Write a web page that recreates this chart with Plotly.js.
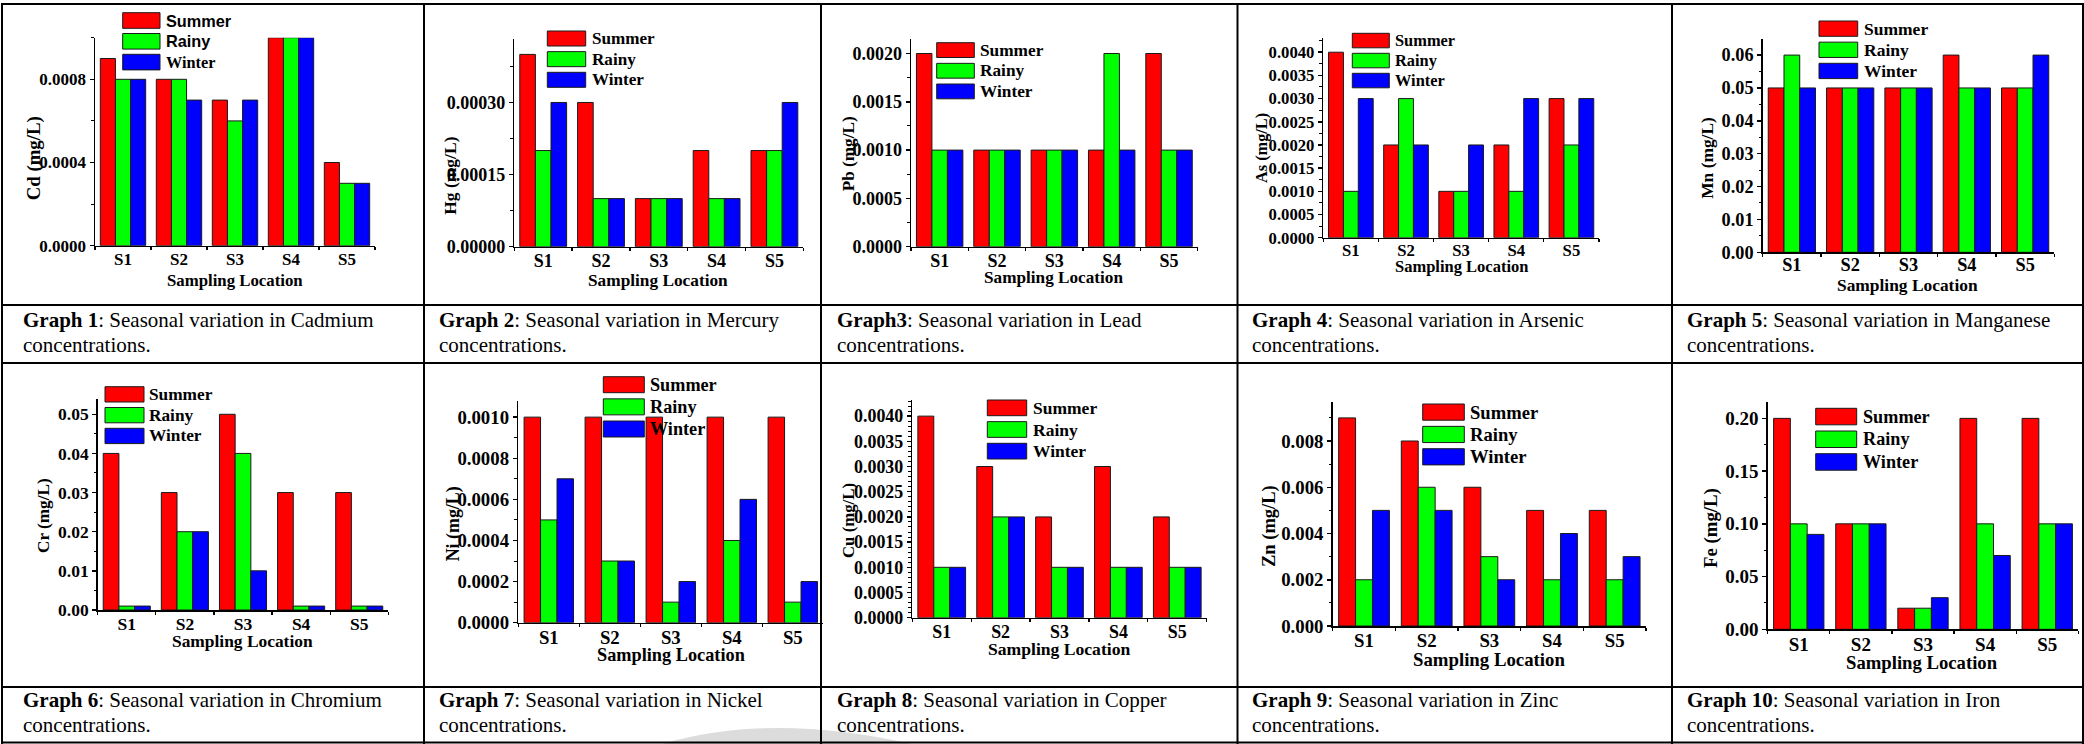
<!DOCTYPE html>
<html><head><meta charset="utf-8">
<script src="https://cdn.plot.ly/plotly-3.0.1.min.js"></script>
<style>html,body{margin:0;padding:0;background:#fff;overflow:hidden}#chart{width:2084px;height:744px}</style>
</head><body><div id="chart"></div>
<script>
// ---------- DATA ----------
const categories = ['S1', 'S2', 'S3', 'S4', 'S5'];
const seasons = ['Summer', 'Rainy', 'Winter'];
const xLabel = 'Sampling Location';

const cdSummer = [0.0009, 0.0008, 0.0007, 0.0010, 0.0004];
const cdRainy  = [0.0008, 0.0008, 0.0006, 0.0010, 0.0003];
const cdWinter = [0.0008, 0.0007, 0.0007, 0.0010, 0.0003];

const hgSummer = [0.0004, 0.0003, 0.0001, 0.0002, 0.0002];
const hgRainy  = [0.0002, 0.0001, 0.0001, 0.0001, 0.0002];
const hgWinter = [0.0003, 0.0001, 0.0001, 0.0001, 0.0003];

const pbSummer = [0.002, 0.001, 0.001, 0.001, 0.002];
const pbRainy  = [0.001, 0.001, 0.001, 0.002, 0.001];
const pbWinter = [0.001, 0.001, 0.001, 0.001, 0.001];

const asSummer = [0.004, 0.002, 0.001, 0.002, 0.003];
const asRainy  = [0.001, 0.003, 0.001, 0.001, 0.002];
const asWinter = [0.003, 0.002, 0.002, 0.003, 0.003];

const mnSummer = [0.05, 0.05, 0.05, 0.06, 0.05];
const mnRainy  = [0.06, 0.05, 0.05, 0.05, 0.05];
const mnWinter = [0.05, 0.05, 0.05, 0.05, 0.06];

const crSummer = [0.04, 0.03, 0.05, 0.03, 0.03];
const crRainy  = [0.001, 0.02, 0.04, 0.001, 0.001];
const crWinter = [0.001, 0.02, 0.01, 0.001, 0.001];

const niSummer = [0.001, 0.001, 0.001, 0.001, 0.001];
const niRainy  = [0.0005, 0.0003, 0.0001, 0.0004, 0.0001];
const niWinter = [0.0007, 0.0003, 0.0002, 0.0006, 0.0002];

const cuSummer = [0.004, 0.003, 0.002, 0.003, 0.002];
const cuRainy  = [0.001, 0.002, 0.001, 0.001, 0.001];
const cuWinter = [0.001, 0.002, 0.001, 0.001, 0.001];

const znSummer = [0.009, 0.008, 0.006, 0.005, 0.005];
const znRainy  = [0.002, 0.006, 0.003, 0.002, 0.002];
const znWinter = [0.005, 0.005, 0.002, 0.004, 0.003];

const feSummer = [0.20, 0.10, 0.02, 0.20, 0.20];
const feRainy  = [0.10, 0.10, 0.02, 0.10, 0.10];
const feWinter = [0.09, 0.10, 0.03, 0.07, 0.10];

const yLabels = ['Cd (mg/L)', 'Hg (mg/L)', 'Pb (mg/L)', 'As (mg/L)', 'Mn (mg/L)',
                 'Cr (mg/L)', 'Ni (mg/L)', 'Cu (mg/L)', 'Zn (mg/L)', 'Fe (mg/L)'];
const graphNames = ['Graph 1', 'Graph 2', 'Graph3', 'Graph 4', 'Graph 5',
                    'Graph 6', 'Graph 7', 'Graph 8', 'Graph 9', 'Graph 10'];
const metalNames = ['Cadmium', 'Mercury', 'Lead', 'Arsenic', 'Manganese',
                    'Chromium', 'Nickel', 'Copper', 'Zinc', 'Iron'];
const seriesByPanel = [
  [cdSummer, cdRainy, cdWinter], [hgSummer, hgRainy, hgWinter], [pbSummer, pbRainy, pbWinter],
  [asSummer, asRainy, asWinter], [mnSummer, mnRainy, mnWinter], [crSummer, crRainy, crWinter],
  [niSummer, niRainy, niWinter], [cuSummer, cuRainy, cuWinter], [znSummer, znRainy, znWinter],
  [feSummer, feRainy, feWinter]
];

// ---------- LAYOUT / STYLE ----------
const W = 2084, H = 744;
const px = x => x / W;
const py = y => 1 - y / H;
const colors = ['#FF0000', '#00FF00', '#0000FF'];
const SERIF = 'Liberation Serif, Times New Roman, serif';
const SANS = 'Liberation Sans, Arial, sans-serif';

// plot-area geometry (pixels), axis ranges and fonts
const geo = [
  {x0: 95,    x1: 375,    yt: 37.7,  yb: 245.7, ymax: 0.001,    dt: 0.0004,  mn: 0.0002,   fmt: '.4f', tf: 17,   so: -3, yt2: [34.3, 158, 18.8],   xt: [234.7, 280, 16.8],
   lg: {x0: 122.7, x1: 160, y0: 12.7, p: 20.8, h: 15.6, tx: 165, fs: 16.3}},
  {x0: 514.3, x1: 803.3,  yt: 39,    yb: 246.7, ymax: 0.000432, dt: 0.00015, mn: 0.000075, fmt: '.5f', tf: 18,   so: -3, yt2: [450, 175.8, 17.5],  xt: [658.3, 280, 17.3],
   lg: {x0: 547.3, x1: 585.7, y0: 31, p: 20.65, h: 15, tx: 590.7, fs: 17.1}},
  {x0: 911,   x1: 1197.7, yt: 39,    yb: 246.7, ymax: 0.00215,  dt: 0.0005,  mn: 0.00025,  fmt: '.4f', tf: 18,   so: -3, yt2: [848.3, 154, 17.2],  xt: [1053.8, 277.5, 17.2],
   lg: {x0: 936.7, x1: 974.3, y0: 42.7, p: 20.65, h: 14.8, tx: 979.3, fs: 17.3}},
  {x0: 1323.3,x1: 1599,   yt: 38.3,  yb: 237.7, ymax: 0.0043,   dt: 0.0005,  mn: 0.00025,  fmt: '.4f', tf: 16.7, so: -3, yt2: [1261, 148, 16.3],   xt: [1461, 266.5, 16.5],
   lg: {x0: 1352.3, x1: 1389.3, y0: 33.3, p: 20, h: 14.5, tx: 1394, fs: 16.4}},
  {x0: 1762.7,x1: 2054.3, yt: 39.3,  yb: 252.3, ymax: 0.0648,   dt: 0.01,    mn: 0.005,    fmt: '.2f', tf: 18.3, so: -5, yt2: [1707.3, 157.5, 17.4], xt: [1907.8, 285, 17.4],
   lg: {x0: 1819, x1: 1857.7, y0: 21, p: 21.15, h: 15.3, tx: 1862.7, fs: 17.5}},
  {x0: 97.7,  x1: 388.3,  yt: 399,   yb: 610,   ymax: 0.0539,   dt: 0.01,    mn: 0.005,    fmt: '.2f', tf: 17.5, so: -3, yt2: [43.3, 515.7, 17.2],  xt: [242.5, 641, 17.4],
   lg: {x0: 105, x1: 144, y0: 386.7, p: 20.8, h: 15.3, tx: 148.3, fs: 17.3}},
  {x0: 518.3, x1: 823.3,  yt: 400.7, yb: 622.7, ymax: 0.00108,  dt: 0.0002,  mn: 0.0001,   fmt: '.4f', tf: 18.8, so: -3, yt2: [453.3, 524, 17.9],  xt: [670.5, 655, 18.3],
   lg: {x0: 603.3, x1: 644.3, y0: 376.7, p: 22.15, h: 16, tx: 649, fs: 18.2}},
  {x0: 912.3, x1: 1206.7, yt: 400,   yb: 617.7, ymax: 0.00432,  dt: 0.0005,  mn: 0.0001,   fmt: '.4f', tf: 17.9, so: -3, yt2: [848.3, 520.7, 16.8], xt: [1058.8, 649, 17.6],
   lg: {x0: 987.3, x1: 1026.7, y0: 400, p: 21.65, h: 15.7, tx: 1031.7, fs: 17.5}},
  {x0: 1332.7,x1: 1646,   yt: 401.7, yb: 626,   ymax: 0.0097,   dt: 0.002,   mn: 0.001,    fmt: '.3f', tf: 18.8, so: -3, yt2: [1269.3, 525.7, 18.5], xt: [1489.2, 659.5, 18.8],
   lg: {x0: 1422.7, x1: 1464.3, y0: 404, p: 22.35, h: 16.2, tx: 1469.3, fs: 18.6}},
  {x0: 1767.7,x1: 2078.3, yt: 401.7, yb: 629.3, ymax: 0.2158,   dt: 0.05,    mn: 0.025,    fmt: '.2f', tf: 19,   so: -3, yt2: [1711.7, 528.3, 18.8], xt: [1922.2, 662, 18.7],
   lg: {x0: 1815.7, x1: 1856.7, y0: 408.3, p: 22.7, h: 16.5, tx: 1861.7, fs: 18.2}}
];
const captionX = [22.7, 439, 836.7, 1251.7, 1686.7];
const captionY = [[320, 345], [700, 725]];

const data = [];
const layout = {
  width: W, height: H,
  margin: {l: 0, r: 0, t: 0, b: 0},
  paper_bgcolor: '#fff', plot_bgcolor: 'rgba(0,0,0,0)',
  showlegend: false,
  barmode: 'group', bargap: 0.19, bargroupgap: 0,
  font: {family: SERIF, color: '#000'},
  shapes: [], annotations: []
};

// faint grey watermark swoosh at the bottom (page artefact)
layout.shapes.push({
  type: 'path', xref: 'paper', yref: 'paper', layer: 'below',
  path: 'M ' + px(662) + ',' + py(744) + ' Q ' + px(770) + ',' + py(712) + ' ' + px(912) + ',' + py(744) + ' Z',
  fillcolor: '#dcdcdc', line: {width: 0}
});

geo.forEach((g, i) => {
  const n = i === 0 ? '' : String(i + 1);
  seriesByPanel[i].forEach((vals, k) => {
    data.push({
      type: 'bar', x: categories, y: vals, name: seasons[k],
      xaxis: 'x' + n, yaxis: 'y' + n,
      marker: {color: colors[k], line: {color: '#1a1a1a', width: 1}},
      hoverinfo: 'x+y+name'
    });
  });
  layout['xaxis' + n] = {
    domain: [px(g.x0), px(g.x1)], anchor: 'y' + n,
    type: 'category', range: [-0.5, 4.5],
    showline: true, linecolor: '#000', linewidth: 1.5,
    ticks: 'outside', tickson: 'boundaries', ticklen: 3, tickwidth: 1.2, tickcolor: '#000',
    ticklabelstandoff: g.so,
    showgrid: false, zeroline: false,
    tickfont: {family: SERIF, size: g.tf, weight: 'bold', color: '#000'}
  };
  layout['yaxis' + n] = {
    domain: [py(g.yb), py(g.yt)], anchor: 'x' + n,
    range: [0, g.ymax], tick0: 0, dtick: g.dt, tickformat: g.fmt,
    showline: true, linecolor: '#000', linewidth: 1.5,
    ticks: 'outside', ticklen: 4, tickwidth: 1.5, tickcolor: '#000',
    minor: {dtick: g.mn, ticks: 'outside', ticklen: 2.5, tickwidth: 1, tickcolor: '#000'},
    showgrid: false, zeroline: false,
    tickfont: {family: SERIF, size: g.tf, weight: 'bold', color: '#000'}
  };
  // axis titles
  layout.annotations.push({
    xref: 'paper', yref: 'paper', x: px(g.yt2[0]), y: py(g.yt2[1]),
    xanchor: 'center', yanchor: 'middle', textangle: -90, showarrow: false,
    text: '<b>' + yLabels[i] + '</b>', font: {family: SERIF, size: g.yt2[2], color: '#000'}
  });
  layout.annotations.push({
    xref: 'paper', yref: 'paper', x: px(g.xt[0]), y: py(g.xt[1]),
    xanchor: 'center', yanchor: 'middle', showarrow: false, borderpad: 0,
    text: '<b>' + xLabel + '</b>', font: {family: SERIF, size: g.xt[2], color: '#000'}
  });
  // legend (drawn as swatches + labels)
  seasons.forEach((s, k) => {
    const y0 = g.lg.y0 + k * g.lg.p, y1 = y0 + g.lg.h;
    layout.shapes.push({
      type: 'rect', xref: 'paper', yref: 'paper',
      x0: px(g.lg.x0), x1: px(g.lg.x1), y0: py(y1), y1: py(y0),
      fillcolor: colors[k], line: {color: '#1a1a1a', width: 1}, layer: 'above'
    });
    const fam = (i === 0 && k < 2) ? SANS : SERIF;
    layout.annotations.push({
      xref: 'paper', yref: 'paper', x: px(g.lg.tx - 1), y: py((y0 + y1) / 2),
      xanchor: 'left', yanchor: 'middle', showarrow: false,
      text: '<b>' + s + '</b>', font: {family: fam, size: g.lg.fs, color: '#000'}
    });
  });
  // captions
  const row = i < 5 ? 0 : 1, col = i % 5;
  layout.annotations.push({
    xref: 'paper', yref: 'paper', x: px(captionX[col] - 2), y: py(captionY[row][0]),
    xanchor: 'left', yanchor: 'middle', showarrow: false, align: 'left',
    text: '<b>' + graphNames[i] + '</b>: Seasonal variation in ' + metalNames[i],
    font: {family: SERIF, size: 21, color: '#000'}
  });
  layout.annotations.push({
    xref: 'paper', yref: 'paper', x: px(captionX[col] - 2), y: py(captionY[row][1]),
    xanchor: 'left', yanchor: 'middle', showarrow: false, align: 'left',
    text: 'concentrations.', font: {family: SERIF, size: 21, color: '#000'}
  });
});

// table grid lines
const hLines = [4, 305, 363, 687, 742.5];
const vLines = [2, 424, 821, 1237.5, 1672, 2083];
hLines.forEach(y => layout.shapes.push({
  type: 'line', xref: 'paper', yref: 'paper', x0: px(1), x1: px(2084), y0: py(y), y1: py(y),
  line: {color: '#000', width: 2}, layer: 'above'
}));
vLines.forEach(x => layout.shapes.push({
  type: 'line', xref: 'paper', yref: 'paper', x0: px(x), x1: px(x), y0: py(3), y1: py(744),
  line: {color: '#000', width: 2}, layer: 'above'
}));

Plotly.newPlot('chart', data, layout, {displayModeBar: false, staticPlot: true});
</script></body></html>
